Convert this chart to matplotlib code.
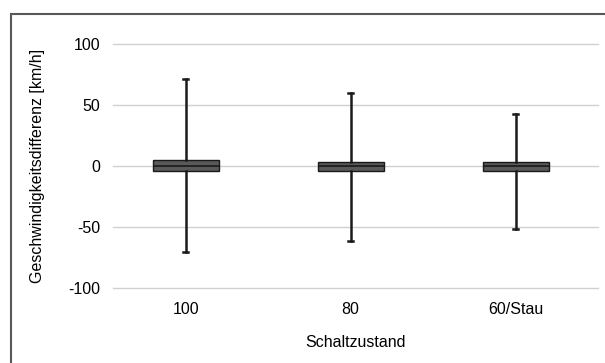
import matplotlib
matplotlib.use('Agg')

import matplotlib.pyplot as plt
from matplotlib.patches import Rectangle

plt.rcParams['font.family'] = ['Liberation Sans', 'DejaVu Sans']
plt.rcParams['axes.unicode_minus'] = False

categories = ['100', '80', '60/Stau']
whisker_low = [-70.5, -61.5, -52.0]
q1 = [-4.5, -3.8, -4.0]
median = [0.0, 0.0, 0.0]
q3 = [5.0, 3.5, 3.5]
whisker_high = [71.5, 60.0, 42.5]


def build_stats():
    stats = []
    for i, name in enumerate(categories):
        stats.append(dict(label=name, whislo=whisker_low[i], q1=q1[i],
                          med=median[i], q3=q3[i], whishi=whisker_high[i],
                          fliers=[]))
    return stats


def main():
    fig = plt.figure(figsize=(6.05, 3.63), dpi=100)
    ax = fig.add_axes([113/605, 1 - 288/363, 485/605, 244/363])

    ax.bxp(build_stats(), positions=range(len(categories)), widths=0.4,
           patch_artist=True, showfliers=False,
           boxprops=dict(facecolor='#595959', edgecolor='#1a1a1a', linewidth=1.0),
           medianprops=dict(color='#1a1a1a', linewidth=1.2),
           whiskerprops=dict(color='#1a1a1a', linewidth=1.8),
           capprops=dict(color='#1a1a1a', linewidth=1.8),
           capwidths=0.03, zorder=3)

    ax.set_xlim(-0.44, 2.5)
    ax.set_ylim(-100, 100)
    ax.set_yticks([-100, -50, 0, 50, 100])
    ax.set_xticks(range(len(categories)))
    ax.set_xticklabels(categories)
    ax.yaxis.grid(True, color='#d0d0d0', linewidth=1.0, zorder=0)
    for gl in ax.get_ygridlines():
        gl.set_clip_on(False)
    ax.set_axisbelow(True)
    for s in ax.spines.values():
        s.set_visible(False)
    ax.tick_params(axis='both', length=0, labelsize=11.5, colors='#000000')
    ax.tick_params(axis='y', pad=9)
    ax.tick_params(axis='x', pad=10)

    ax.set_ylabel('Geschwindigkeitsdifferenz [km/h]', fontsize=11.5, labelpad=17)
    ax.set_xlabel('Schaltzustand', fontsize=11.5, labelpad=13)

    # frame around the chart area, cut off at right and bottom
    fig.add_artist(Rectangle((11/605, -0.05), 1.0, 1 - 14/363 + 0.05,
                             transform=fig.transFigure, fill=False,
                             edgecolor='#595959', linewidth=1.5))

    fig.savefig('out.png', dpi=100)


if __name__ == '__main__':
    main()
